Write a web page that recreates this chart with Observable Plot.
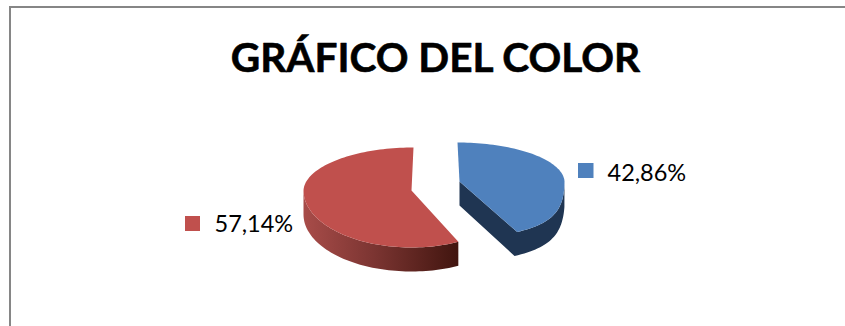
<!DOCTYPE html>
<html>
<head>
<meta charset="utf-8">
<script src="https://cdn.jsdelivr.net/npm/d3@7"></script>
<script src="https://cdn.jsdelivr.net/npm/@observablehq/plot@0.6"></script>
<style>
  html, body { margin: 0; padding: 0; background: #fff; }
  svg { display: block; }
</style>
</head>
<body>
<script>
const chartTitle = "GRÁFICO DEL COLOR";
const categories = ["Azul", "Rojo"];
const shares = [42.86, 57.14];
const shareLabels = ["42,86%", "57,14%"];
const topColors = ["#4f81bd", "#c0504d"];

// Shape of each exploded wedge: the apex, the radii of the tilted disc
// (the near half is drawn larger than the far half) and the wall height.
const wedgeLayout = [
  {cx: 459, cy: 181, rx: 105, ryFar: 39, ryNear: 56, depth: 24, wallDx: -3, sweep: 1, nearStretch: 0.33, farLean: -2, cutWall: true},
  {cx: 411, cy: 190, rx: 108, ryFar: 43, ryNear: 57, depth: 24, wallDx: 0, sweep: -1, nearStretch: 0, farLean: 2, cutWall: false}
];
const legendLayout = [
  {x1: 578, x2: 593.5, y1: 163, y2: 178, textX: 607, textY: 180},
  {x1: 185, x2: 200, y1: 216, y2: 231, textX: 214, textY: 231}
];

// Turns a share of the pie into the outline of its top face.
function rimPoints(share, g) {
  const extent = share / 100 * 2 * Math.PI;
  const steps = Math.max(2, Math.round(share * 2));
  return d3.range(steps + 1).map((i) => {
    const a = g.sweep * extent * i / steps;
    const c = Math.cos(a), s = Math.sin(a);
    const ry = c > 0 ? g.ryFar : g.ryNear;
    const stretch = c < 0 ? 1 + g.nearStretch * c * c : 1;
    return {x: g.cx + g.rx * s * stretch + g.farLean * Math.max(c, 0), y: g.cy - ry * c, c};
  });
}

const slices = categories.map((name, i) => {
  const g = wedgeLayout[i];
  const rim = rimPoints(shares[i], g);
  const apex = {x: g.cx, y: g.cy, c: 0};
  // Only the stretch of outline facing the viewer shows a wall; the wall's
  // lower edge drifts sideways the nearer it comes to the viewer.
  const front = rim.filter((p) => p.c <= 0);
  const chain = g.cutWall ? [...front, apex] : front;
  const lower = chain.slice().reverse().map((p) => ({x: p.x - g.wallDx * p.c, y: p.y + g.depth}));
  return {name, wall: [...chain, ...lower], top: [apex, ...rim]};
});

const legend = categories.map((name, i) => ({name, label: shareLabels[i], color: topColors[i], ...legendLayout[i]}));

// Side shading for the red wedge runs dark toward the cut edge.
const wallGradient = () => {
  const svg = d3.create("svg:defs");
  const g = svg.append("linearGradient").attr("id", "redWall")
    .attr("gradientUnits", "userSpaceOnUse")
    .attr("x1", 303).attr("x2", 458).attr("y1", 0).attr("y2", 0);
  g.append("stop").attr("offset", "0").attr("stop-color", "#a84c49");
  g.append("stop").attr("offset", "0.45").attr("stop-color", "#7c3532");
  g.append("stop").attr("offset", "1").attr("stop-color", "#41150f");
  return svg.node();
};

const chart = Plot.plot({
  width: 845,
  height: 326,
  margin: 0,
  x: {domain: [0, 845], range: [0, 845], axis: null},
  y: {domain: [0, 326], range: [0, 326], axis: null},
  style: {background: "#fff"},
  marks: [
    wallGradient,
    Plot.ruleY([6.5], {stroke: "#868686", strokeWidth: 2, x1: 9, x2: 845}),
    Plot.ruleX([9.5], {stroke: "#868686", strokeWidth: 2, y1: 6, y2: 326}),
    Plot.line(slices[1].wall, {x: "x", y: "y", fill: "url(#redWall)"}),
    Plot.line(slices[1].top, {x: "x", y: "y", fill: topColors[1]}),
    Plot.line(slices[0].wall, {x: "x", y: "y", fill: "#1f3552"}),
    Plot.line(slices[0].top, {x: "x", y: "y", fill: topColors[0]}),
    Plot.rect(legend, {x1: "x1", x2: "x2", y1: "y1", y2: "y2", fill: "color"}),
    Plot.text(legend, {x: "textX", y: "textY", text: "label", textAnchor: "start", lineAnchor: "bottom",
      fontFamily: "Lato", fontSize: 23.5, fill: "#000"}),
    Plot.text([chartTitle], {x: [435], y: [71], textAnchor: "middle", lineAnchor: "bottom",
      fontFamily: "Lato", fontWeight: 700, fontSize: 40.6, fill: "#000", stroke: "#000", strokeWidth: 0.6})
  ]
});
document.body.append(chart);
</script>
</body>
</html>
